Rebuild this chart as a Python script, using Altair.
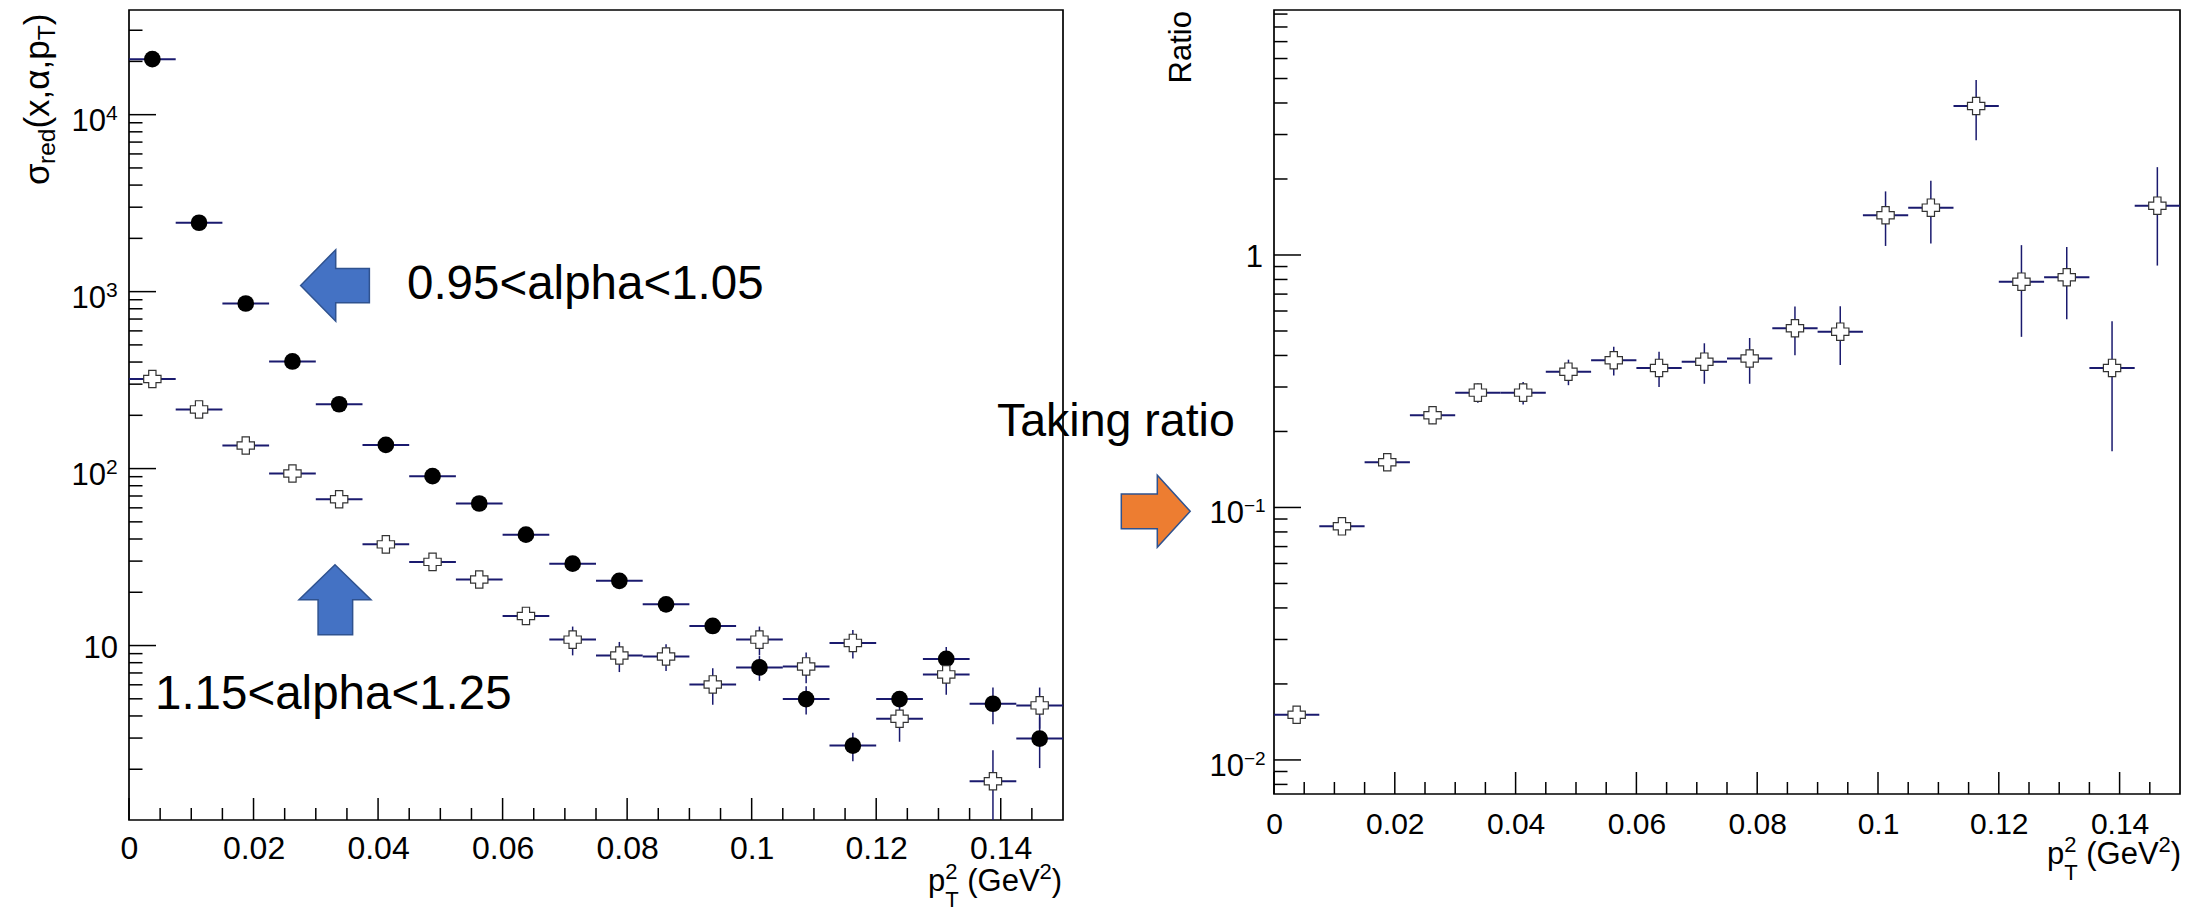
import altair as alt
import pandas as pd

FONT = "Liberation Sans"
NAVY = "#1a1a6e"

# ---------------- data ----------------
bin_edges = [0.0, 0.0075, 0.015, 0.0225, 0.03, 0.0375, 0.045, 0.0525, 0.06, 0.0675,
             0.075, 0.0825, 0.09, 0.0975, 0.105, 0.1125, 0.12, 0.1275, 0.135, 0.1425, 0.15]

# 0.95 < alpha < 1.05 (filled circles)
black_vals = [20600, 2450, 857, 403, 231, 136, 90.6, 63.5, 42.3, 29.0,
              23.2, 17.1, 12.9, 7.52, 4.98, 2.72, 4.98, 8.4, 4.69, 2.98]
black_err = [300, 60, 25, 13, 8, 5, 3.5, 2.7, 2.0, 1.6,
             1.4, 1.2, 1.1, 1.2, 0.9, 0.5, 0.5, 1.4, 1.1, 0.95]

# 1.15 < alpha < 1.25 (open crosses)
open_vals = [321, 216, 135, 93.8, 67.1, 37.3, 29.7, 23.6, 14.7, 10.8,
             8.78, 8.67, 6.03, 10.8, 7.62, 10.35, 3.86, 6.87, 1.71, 4.59]
open_err = [5, 4, 3, 2.5, 2, 1.7, 1.6, 1.4, 1.3, 2.0,
            1.7, 1.5, 1.4, 2.0, 1.5, 1.9, 1.0, 1.6, 0.85, 1.2]

# ratio
ratio_vals = [0.0151, 0.0842, 0.151, 0.232, 0.285, 0.285, 0.345, 0.383, 0.357, 0.378,
              0.389, 0.5125, 0.497, 1.436, 1.54, 3.89, 0.784, 0.816, 0.357, 1.568]
ratio_err = [0.0006, 0.003, 0.006, 0.018, 0.025, 0.029, 0.04, 0.05, 0.057, 0.069,
             0.08, 0.112, 0.13, 0.35, 0.43, 1.04, 0.31, 0.26, 0.19, 0.66]

x_major = [0, 0.02, 0.04, 0.06, 0.08, 0.1, 0.12, 0.14]
x_minor = [0.005, 0.01, 0.015, 0.025, 0.03, 0.035, 0.045, 0.05, 0.055, 0.065, 0.07, 0.075,
           0.085, 0.09, 0.095, 0.105, 0.11, 0.115, 0.125, 0.13, 0.135, 0.145]

left_y_major = [10, 100, 1000, 10000]
left_y_exp = ["", "2", "3", "4"]
left_y_minor = [2, 3, 4, 5, 6, 7, 8, 9, 20, 30, 40, 50, 60, 70, 80, 90,
                200, 300, 400, 500, 600, 700, 800, 900,
                2000, 3000, 4000, 5000, 6000, 7000, 8000, 9000, 20000, 30000]
right_y_major = [0.01, 0.1, 1]
right_y_exp = ["\u22122", "\u22121", ""]
right_y_minor = [0.008, 0.009, 0.02, 0.03, 0.04, 0.05, 0.06, 0.07, 0.08, 0.09,
                 0.2, 0.3, 0.4, 0.5, 0.6, 0.7, 0.8, 0.9, 2, 3, 4, 5, 6, 7, 8, 9]

# ---------------- helpers ----------------
ONE = pd.DataFrame({"k": [0]})
CROSS = ("M -0.42 -1 L 0.42 -1 L 0.42 -0.42 L 1 -0.42 L 1 0.42 L 0.42 0.42 L 0.42 1 "
         "L -0.42 1 L -0.42 0.42 L -1 0.42 L -1 -0.42 L -0.42 -0.42 Z")
ARROW_LEFT = "M -0.955 0 L 0.02 -0.994 L 0.02 -0.47 L 0.955 -0.47 L 0.955 0.48 L 0.02 0.48 L 0.02 0.994 Z"
ARROW_UP = "M 0 -0.972 L 1 0 L 0.49 0 L 0.49 0.972 L -0.47 0.972 L -0.47 0 L -1 0 Z"
ARROW_RIGHT = "M 0.957 0 L 0.043 1 L 0.043 0.483 L -0.957 0.483 L -0.957 -0.48 L 0.043 -0.48 L 0.043 -1 Z"


def frame(vals, errs):
    lo = bin_edges[:-1]
    hi = bin_edges[1:]
    return pd.DataFrame({
        "xlo": lo, "xhi": hi, "xmid": [(a + b) / 2 for a, b in zip(lo, hi)],
        "val": vals, "lo": [v - e for v, e in zip(vals, errs)],
        "hi": [v + e for v, e in zip(vals, errs)],
    })


def txt(text, x, y, size, angle=0, align="left", color="black"):
    return alt.Chart(ONE).mark_text(
        text=text, font=FONT, fontSize=size, angle=angle, align=align,
        baseline="alphabetic", color=color
    ).encode(x=alt.value(x), y=alt.value(y))


def shape(path, x, y, size, fill, stroke):
    return alt.Chart(ONE).mark_point(
        shape=path, size=size, filled=True, fill=fill, stroke=stroke,
        strokeWidth=1.5, opacity=1, fillOpacity=1, strokeOpacity=1
    ).encode(x=alt.value(x), y=alt.value(y))


def panel(series, xs, ys, x_axis, W, H, y_major, y_exp, y_minor, lab_size, sup_size, exp_x):
    layers = []
    for f, kind in series:
        layers.append(alt.Chart(f).mark_rule(color=NAVY, strokeWidth=2).encode(
            x=alt.X("xlo:Q", scale=xs, axis=x_axis), x2="xhi:Q",
            y=alt.Y("val:Q", scale=ys, axis=None)))
        layers.append(alt.Chart(f).mark_rule(color=NAVY, strokeWidth=1.5, clip=True).encode(
            x=alt.X("xmid:Q", scale=xs, axis=x_axis),
            y=alt.Y("lo:Q", scale=ys, axis=None), y2="hi:Q"))
    for f, kind in series:
        if kind == "circle":
            m = alt.Chart(f).mark_point(shape="circle", size=279, filled=True, color="black", opacity=1)
        else:
            m = alt.Chart(f).mark_point(shape=CROSS, size=300, filled=True, fill="white",
                                        stroke="#333333", strokeWidth=1.2, opacity=1,
                                        fillOpacity=1, strokeOpacity=1)
        layers.append(m.encode(x=alt.X("xmid:Q", scale=xs, axis=x_axis),
                               y=alt.Y("val:Q", scale=ys, axis=None)))
    # inward ticks
    layers.append(alt.Chart(pd.DataFrame({"v": y_major})).mark_rule(color="black", strokeWidth=1.5).encode(
        y=alt.Y("v:Q", scale=ys, axis=None), x=alt.value(0), x2=alt.value(27)))
    layers.append(alt.Chart(pd.DataFrame({"v": y_minor})).mark_rule(color="black", strokeWidth=1.5).encode(
        y=alt.Y("v:Q", scale=ys, axis=None), x=alt.value(0), x2=alt.value(13.5)))
    layers.append(alt.Chart(pd.DataFrame({"v": x_major})).mark_rule(color="black", strokeWidth=1.5).encode(
        x=alt.X("v:Q", scale=xs, axis=x_axis), y=alt.value(H), y2=alt.value(H - 22)))
    layers.append(alt.Chart(pd.DataFrame({"v": x_minor})).mark_rule(color="black", strokeWidth=1.5).encode(
        x=alt.X("v:Q", scale=xs, axis=x_axis), y=alt.value(H), y2=alt.value(H - 12)))
    # y labels (10 with superscript exponent)
    lab = pd.DataFrame({"v": y_major, "exp": y_exp})
    lab["base"] = ["1" if (e == "" and v == 1) else "10" for v, e in zip(y_major, y_exp)]
    plain = lab[lab["exp"] == ""]
    expd = lab[lab["exp"] != ""]
    layers.append(alt.Chart(plain).mark_text(font=FONT, fontSize=lab_size, align="right",
                                             baseline="alphabetic", dy=12, color="black").encode(
        y=alt.Y("v:Q", scale=ys, axis=None), x=alt.value(-11), text="base:N"))
    layers.append(alt.Chart(expd).mark_text(font=FONT, fontSize=lab_size, align="right",
                                            baseline="alphabetic", dy=16, color="black").encode(
        y=alt.Y("v:Q", scale=ys, axis=None), x=alt.value(exp_x), text="base:N"))
    layers.append(alt.Chart(expd).mark_text(font=FONT, fontSize=sup_size, align="left",
                                            baseline="alphabetic", dy=5, color="black").encode(
        y=alt.Y("v:Q", scale=ys, axis=None), x=alt.value(exp_x), text="exp:N"))
    return layers


def xtitle(x0, base, F=31, f=22):
    # p_T^2 (GeV^2)
    return [
        txt("p", x0, base, F),
        txt("2", x0 + 17.2, base - 12, f),
        txt("T", x0 + 17.2, base + 16, f),
        txt("(GeV", x0 + 39.2, base, F),
        txt("2", x0 + 111.6, base - 12, f),
        txt(")", x0 + 123.8, base, F),
    ]


# ---------------- left panel ----------------
LW, LH = 934, 810
xs_l = alt.Scale(domain=[0, 0.15], nice=False, zero=False)
ys_l = alt.Scale(type="log", domain=[1.033, 39040], nice=False)
ax_l = alt.Axis(values=x_major, format="~g", labelFont=FONT, labelFontSize=32, labelColor="black",
                ticks=False, domain=False, grid=False, labelPadding=13, labelFlush=False,
                labelOverlap=False, title=None)

left_layers = panel([(frame(black_vals, black_err), "circle"), (frame(open_vals, open_err), "cross")],
                    xs_l, ys_l, ax_l, LW, LH, left_y_major, left_y_exp, left_y_minor, 31, 21, -23)

# y title sigma_red(x,alpha,p_T), rotated
YB = -80
left_layers += [
    txt("\u03c3", YB, 175, 35, angle=270),
    txt("red", YB + 6, 154, 24.5, angle=270),
    txt("(x,\u03b1,p", YB, 118.6, 35, angle=270),
    txt("T", YB + 6, 30.3, 24.5, angle=270),
    txt(")", YB, 15.3, 35, angle=270),
]
left_layers += xtitle(799, 881)

# annotations
left_layers += [
    shape(ARROW_LEFT, 206, 275.5, 5184, "#4472C4", "#2F528F"),
    shape(ARROW_UP, 206, 589.7, 5184, "#4472C4", "#2F528F"),
    shape(ARROW_RIGHT, 1026.75, 501.3, 5184, "#ED7D31", "#2F528F"),
    txt("0.95<alpha<1.05", 278, 289, 47.5),
    txt("1.15<alpha<1.25", 26, 699, 47.5),
    txt("Taking ratio", 868, 426, 46.5),
]
left = alt.layer(*left_layers).properties(width=LW, height=LH)

# ---------------- right panel ----------------
RW, RH = 906, 784
xs_r = alt.Scale(domain=[0, 0.15], nice=False, zero=False)
ys_r = alt.Scale(type="log", domain=[0.00733, 9.34], nice=False)
ax_r = alt.Axis(values=x_major, format="~g", labelFont=FONT, labelFontSize=30, labelColor="black",
                ticks=False, domain=False, grid=False, labelPadding=15, labelFlush=False,
                labelOverlap=False, title=None)

right_layers = panel([(frame(ratio_vals, ratio_err), "cross")],
                     xs_r, ys_r, ax_r, RW, RH, right_y_major, right_y_exp, right_y_minor, 31, 19, -30)
right_layers.append(txt("Ratio", -83, 1, 31, angle=270, align="right"))
right_layers += xtitle(773, 854)
right = alt.layer(*right_layers).properties(width=RW, height=RH)

chart = alt.hconcat(left, right, spacing=211, bounds="flush").properties(
    padding={"left": 20, "top": 9, "right": 5, "bottom": 0}
).configure_view(stroke="black", strokeWidth=1.7)

chart.save("out.html", embed_options={"renderer": "svg", "actions": False})
